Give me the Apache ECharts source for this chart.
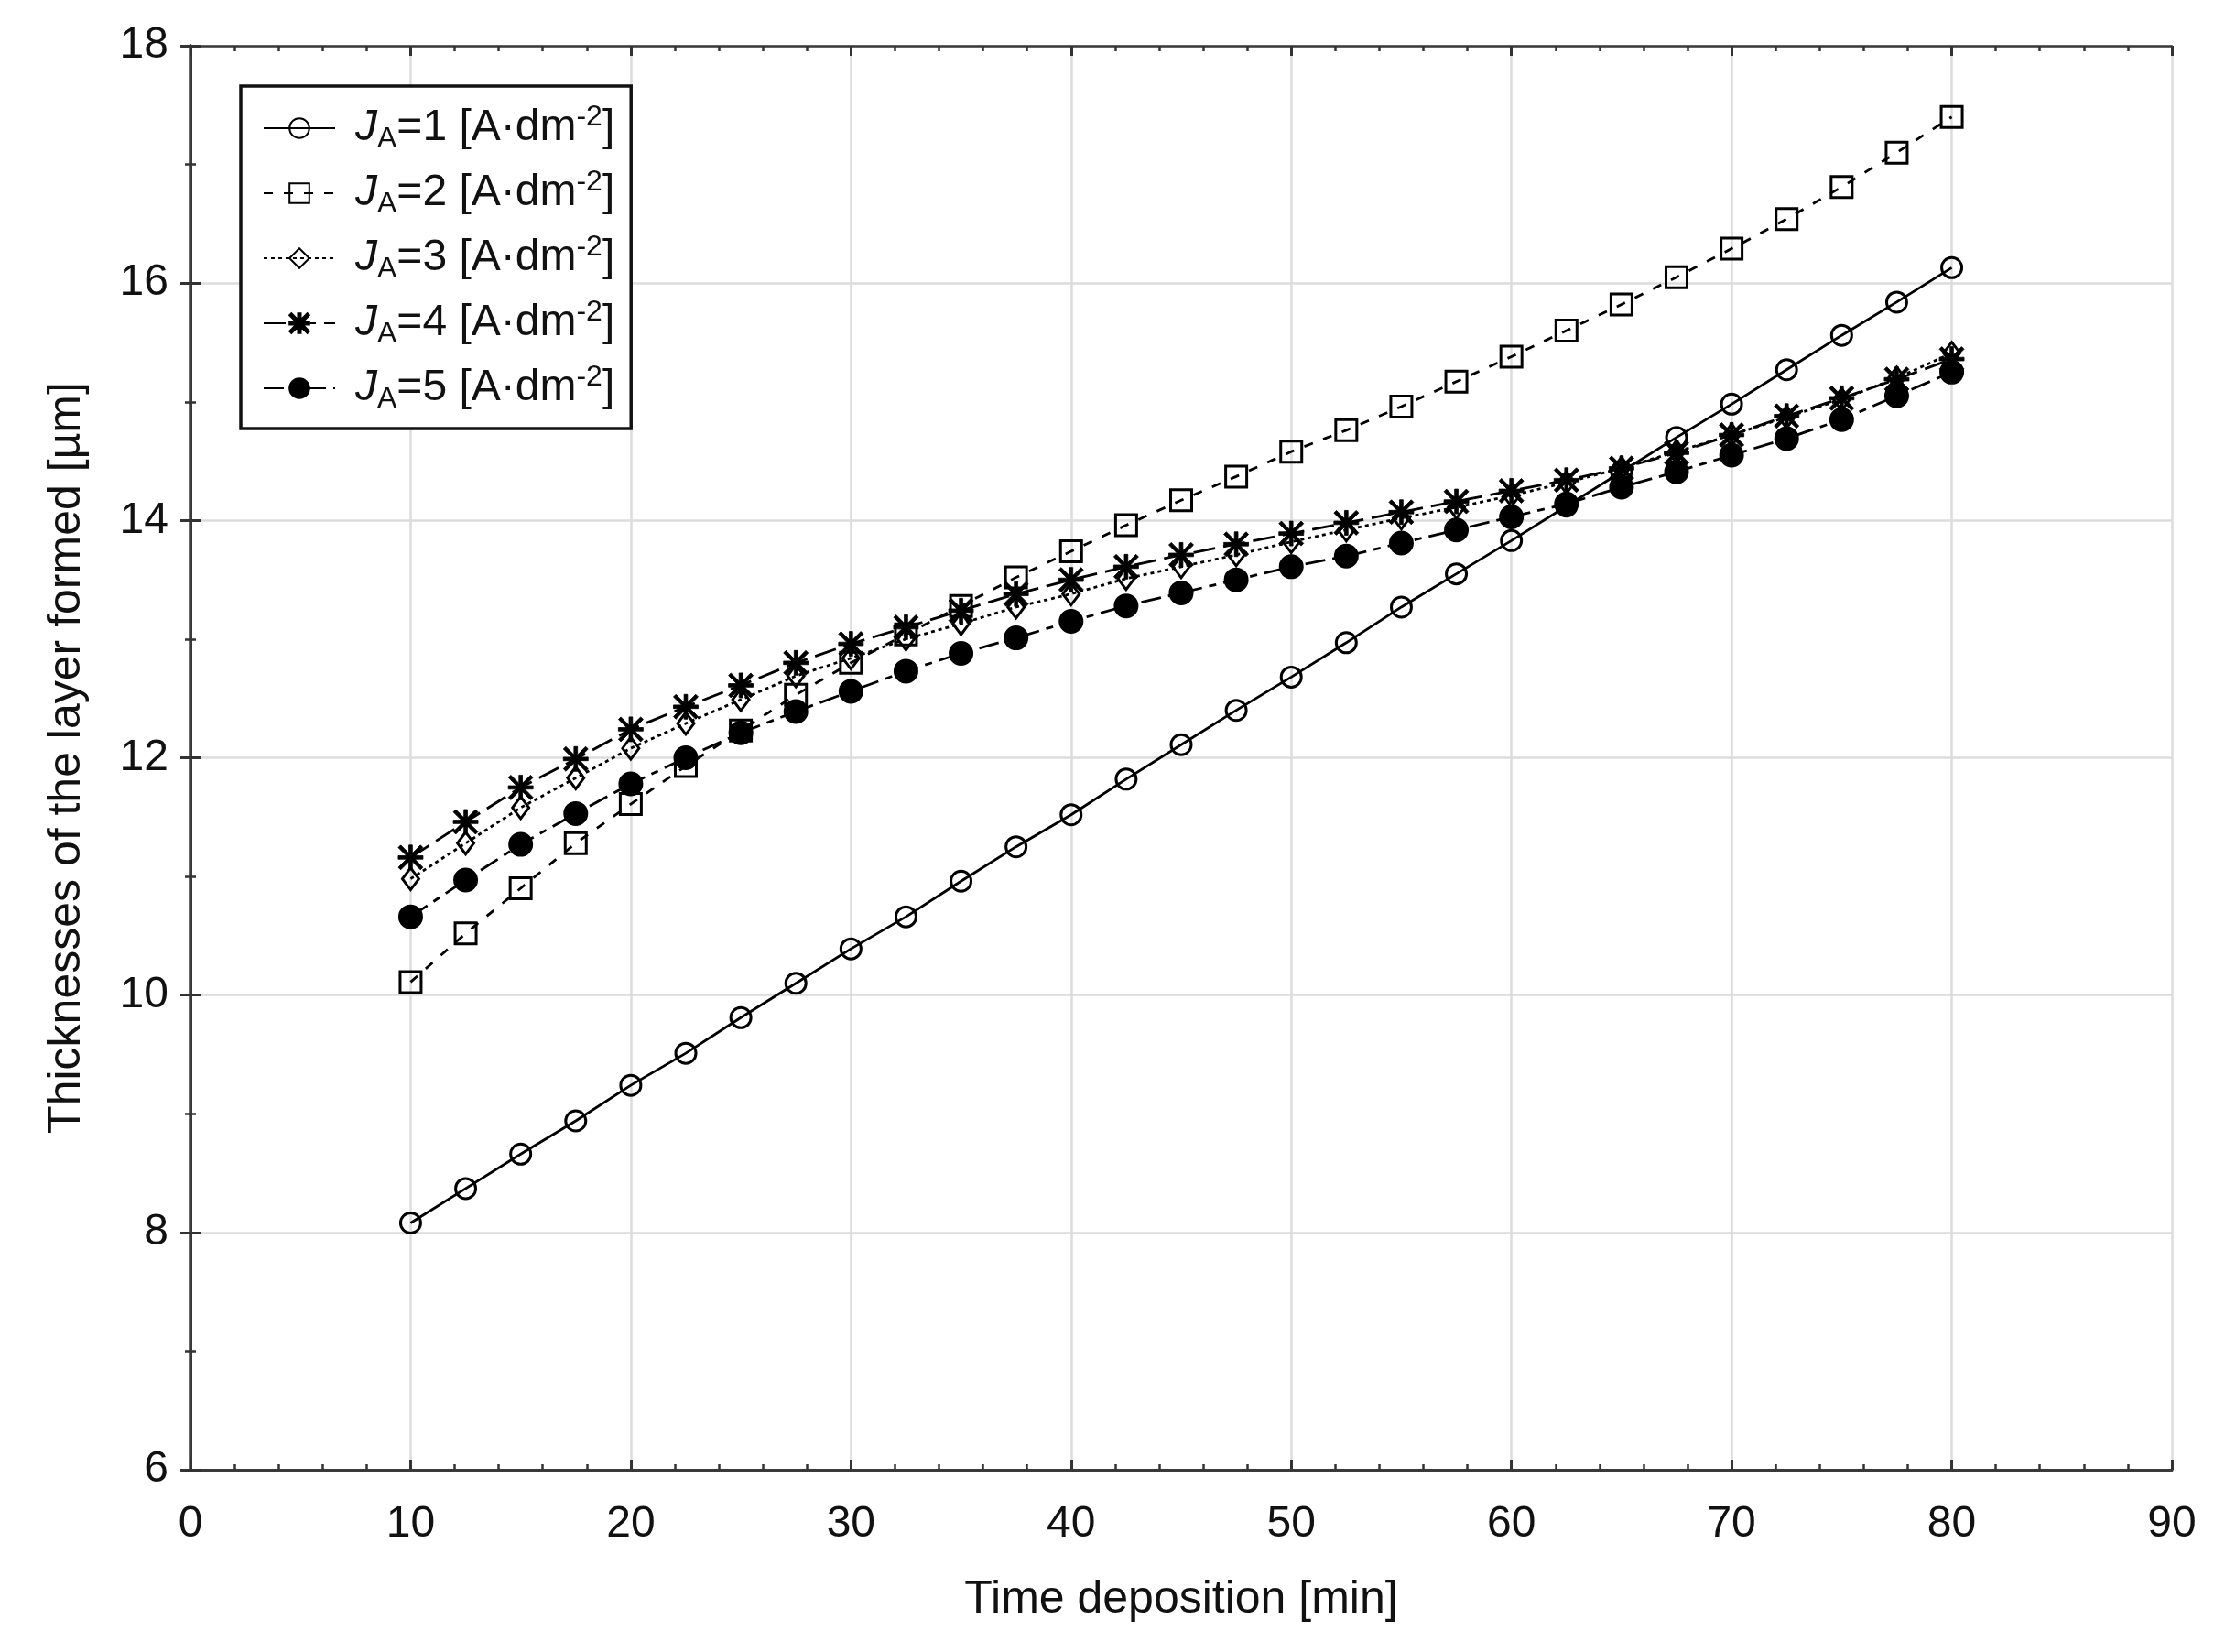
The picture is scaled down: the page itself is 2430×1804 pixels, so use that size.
<!DOCTYPE html>
<html>
<head>
<meta charset="utf-8">
<script src="https://cdn.jsdelivr.net/npm/echarts@6/dist/echarts.min.js"></script>
<style>
html,body{margin:0;padding:0;background:#fff;}
#chart{width:2430px;height:1804px;}
</style>
</head>
<body>
<div id="chart"></div>
<script>
// ---- data ----
const times = [10, 12.5, 15, 17.5, 20, 22.5, 25, 27.5, 30, 32.5, 35, 37.5, 40, 42.5, 45, 47.5, 50, 52.5, 55, 57.5, 60, 62.5, 65, 67.5, 70, 72.5, 75, 77.5, 80];
const densities = [1, 2, 3, 4, 5];
const seriesNames = ['JA=1 [A·dm-2]', 'JA=2 [A·dm-2]', 'JA=3 [A·dm-2]', 'JA=4 [A·dm-2]', 'JA=5 [A·dm-2]'];
const ja1 = [8.08, 8.37, 8.66, 8.94, 9.24, 9.51, 9.81, 10.10, 10.39, 10.66, 10.96, 11.25, 11.52, 11.82, 12.11, 12.40, 12.68, 12.97, 13.27, 13.55, 13.83, 14.12, 14.41, 14.70, 14.98, 15.27, 15.56, 15.84, 16.13];
const ja2 = [10.11, 10.52, 10.90, 11.28, 11.61, 11.93, 12.23, 12.53, 12.80, 13.04, 13.28, 13.52, 13.74, 13.96, 14.17, 14.37, 14.58, 14.76, 14.96, 15.17, 15.38, 15.60, 15.82, 16.05, 16.29, 16.54, 16.81, 17.10, 17.40];
const ja3 = [10.98, 11.28, 11.58, 11.83, 12.08, 12.29, 12.49, 12.69, 12.84, 13.00, 13.13, 13.27, 13.38, 13.51, 13.61, 13.71, 13.82, 13.92, 14.02, 14.11, 14.21, 14.32, 14.44, 14.58, 14.72, 14.87, 15.02, 15.20, 15.41];
const ja4 = [11.16, 11.46, 11.75, 11.99, 12.24, 12.43, 12.61, 12.80, 12.96, 13.10, 13.24, 13.38, 13.50, 13.61, 13.71, 13.80, 13.89, 13.98, 14.07, 14.16, 14.25, 14.34, 14.44, 14.57, 14.72, 14.88, 15.03, 15.19, 15.36];
const ja5 = [10.66, 10.97, 11.27, 11.53, 11.78, 12.00, 12.21, 12.39, 12.56, 12.73, 12.88, 13.01, 13.15, 13.28, 13.39, 13.50, 13.61, 13.70, 13.81, 13.92, 14.03, 14.14, 14.28, 14.41, 14.55, 14.69, 14.85, 15.05, 15.25];
const xTicks = {min: 0, max: 90, interval: 10};
const yTicks = {min: 6, max: 18, interval: 2};
const xTitle = 'Time deposition [min]';
const yTitle = 'Thicknesses of the layer formed [µm]';

// ---- styling ----
const FONT = 'Liberation Sans, Arial, sans-serif';
const asterisk = 'path://M43 0 L57 0 L57 100 L43 100 Z M0 43 L100 43 L100 57 L0 57 Z M10 0 L100 90 L90 100 L0 10 Z M90 0 L100 10 L10 100 L0 90 Z';
const styles = [
  {symbol: 'circle', size: 22, fill: 'rgba(255,255,255,0)', dash: 'solid'},
  {symbol: 'rect', size: 23, fill: 'rgba(255,255,255,0)', dash: [10, 12]},
  {symbol: 'diamond', size: [18, 24], fill: 'rgba(255,255,255,0)', dash: [4, 4]},
  {symbol: asterisk, size: 27, fill: '#000', dash: [24, 9]},
  {symbol: 'circle', size: 24, fill: '#000', dash: [22, 8, 8, 8]}
];
const allData = [ja1, ja2, ja3, ja4, ja5];

const series = allData.map((vals, i) => ({
  name: seriesNames[i],
  type: 'line',
  data: times.map((t, k) => [t, vals[k]]),
  symbol: styles[i].symbol,
  symbolSize: styles[i].size,
  showAllSymbol: true,
  lineStyle: {color: '#000', width: 2.8, type: styles[i].dash},
  itemStyle: {color: styles[i].fill, borderColor: '#000', borderWidth: i === 3 ? 0.8 : 3},
  emphasis: {disabled: true},
  animation: false,
  z: 3 + i
}));

const axisLineStyle = {show: true, lineStyle: {color: '#3a3a3a', width: 3}};

const chart = echarts.init(document.getElementById('chart'), null, {renderer: 'canvas'});
chart.setOption({
  backgroundColor: '#fff',
  animation: false,
  grid: {left: 208, top: 50, width: 2164, height: 1555, containLabel: false},
  legend: {
    show: true,
    orient: 'vertical',
    left: 263,
    top: 94,
    data: seriesNames,
    backgroundColor: '#fff',
    borderColor: '#111',
    borderWidth: 3.5,
    borderRadius: 0,
    padding: [18, 18, 16, 24],
    itemWidth: 78,
    itemHeight: 27,
    itemGap: 15,
    selectedMode: false,
    formatter: function (name) {
      const i = seriesNames.indexOf(name);
      return '{j|J}{sub|A}{t|=' + densities[i] + ' [A·dm}{sup|-2}{t|]}';
    },
    textStyle: {
      fontFamily: FONT,
      fontSize: 48,
      color: '#111',
      rich: {
        j: {fontFamily: FONT, fontSize: 48, fontStyle: 'italic', lineHeight: 56, color: '#111', padding: [0, 0, 0, 17]},
        t: {fontFamily: FONT, fontSize: 48, lineHeight: 56, color: '#111'},
        sub: {fontFamily: FONT, fontSize: 32, lineHeight: 32, verticalAlign: 'bottom', color: '#111'},
        sup: {fontFamily: FONT, fontSize: 32, lineHeight: 32, verticalAlign: 'top', color: '#111'}
      }
    }
  },
  xAxis: [
    {
      type: 'value', position: 'bottom', min: xTicks.min, max: xTicks.max, interval: xTicks.interval,
      name: xTitle, nameLocation: 'middle', nameGap: 117,
      nameTextStyle: {fontFamily: FONT, fontSize: 50, color: '#111'},
      axisLine: axisLineStyle,
      axisTick: {show: true, inside: true, length: 11, lineStyle: {color: '#333', width: 3}},
      minorTick: {show: true, splitNumber: 5, length: 6, lineStyle: {color: '#333', width: 2.5}},
      axisLabel: {fontFamily: FONT, fontSize: 48, color: '#111', margin: 36},
      splitLine: {show: true, lineStyle: {color: '#dcdcdc', width: 2.5}}
    },
    {
      type: 'value', position: 'top', min: xTicks.min, max: xTicks.max, interval: xTicks.interval,
      axisLine: {show: true, lineStyle: {color: '#3a3a3a', width: 2.5}},
      axisTick: {show: true, inside: true, length: 11, lineStyle: {color: '#333', width: 3}},
      minorTick: {show: true, splitNumber: 5, length: 6, lineStyle: {color: '#333', width: 2.5}},
      axisLabel: {show: false},
      splitLine: {show: false}
    }
  ],
  yAxis: [
    {
      type: 'value', position: 'left', min: yTicks.min, max: yTicks.max, interval: yTicks.interval,
      name: yTitle, nameLocation: 'middle', nameGap: 110,
      nameTextStyle: {fontFamily: FONT, fontSize: 50, color: '#111'},
      axisLine: axisLineStyle,
      axisTick: {show: true, inside: true, length: 11, lineStyle: {color: '#333', width: 3}},
      minorTick: {show: true, splitNumber: 2, length: 6, lineStyle: {color: '#333', width: 2.5}},
      axisLabel: {fontFamily: FONT, fontSize: 48, color: '#111', margin: 24},
      splitLine: {show: true, lineStyle: {color: '#dcdcdc', width: 2.5}}
    },
    {
      type: 'value', position: 'right', min: yTicks.min, max: yTicks.max, interval: yTicks.interval,
      axisLine: {show: true, lineStyle: {color: '#3a3a3a', width: 3.5}},
      axisTick: {show: true, inside: true, length: 11, lineStyle: {color: '#333', width: 3}},
      minorTick: {show: true, splitNumber: 2, length: 6, lineStyle: {color: '#333', width: 2.5}},
      axisLabel: {show: false},
      splitLine: {show: false}
    }
  ],
  series: series
});
</script>
</body>
</html>
